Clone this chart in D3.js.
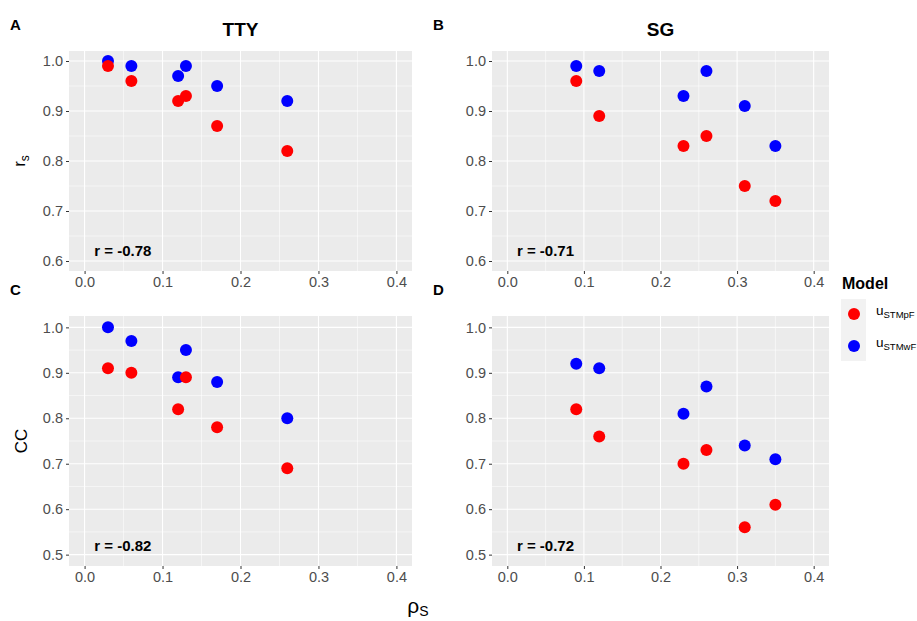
<!DOCTYPE html>
<html>
<head>
<meta charset="utf-8">
<script src="https://cdn.jsdelivr.net/npm/d3@7"></script>
<style>
  body { margin: 0; background: white; }
  text { font-family: "Liberation Sans", Arial, sans-serif; }
</style>
</head>
<body>
<div id="chart"></div>
<script>
// data
var rhoTTY = [0.03, 0.06, 0.12, 0.13, 0.17, 0.26];
var rhoSG = [0.09, 0.12, 0.23, 0.26, 0.31, 0.35];

var rsTTY_pF = [0.99, 0.96, 0.92, 0.93, 0.87, 0.82];
var rsTTY_wF = [1.00, 0.99, 0.97, 0.99, 0.95, 0.92];
var rsSG_pF = [0.96, 0.89, 0.83, 0.85, 0.75, 0.72];
var rsSG_wF = [0.99, 0.98, 0.93, 0.98, 0.91, 0.83];
var ccTTY_pF = [0.91, 0.90, 0.82, 0.89, 0.78, 0.69];
var ccTTY_wF = [1.00, 0.97, 0.89, 0.95, 0.88, 0.80];
var ccSG_pF = [0.82, 0.76, 0.70, 0.73, 0.56, 0.61];
var ccSG_wF = [0.92, 0.91, 0.81, 0.87, 0.74, 0.71];

var xTicks = [0, 0.1, 0.2, 0.3, 0.4];
var yTicksRs = [0.6, 0.7, 0.8, 0.9, 1.0];
var yTicksCC = [0.5, 0.6, 0.7, 0.8, 0.9, 1.0];
var rLabels = ["r = -0.78", "r = -0.71", "r = -0.82", "r = -0.72"];
var panelTags = ["A", "B", "C", "D"];
var models = ["STMpF", "STMwF"];
var colors = {STMpF: "red", STMwF: "blue"};

var width = 917;
var height = 621;

var svg = d3.select("#chart").append("svg")
  .attr("width", width)
  .attr("height", height);

var panels = [
  {tag: "A", x: rhoTTY, pF: rsTTY_pF, wF: rsTTY_wF, yTicks: yTicksRs, yDom: [0.58, 1.02], left: 69, right: 412, top: 51, bottom: 271, r: rLabels[0], title: "TTY"},
  {tag: "B", x: rhoSG, pF: rsSG_pF, wF: rsSG_wF, yTicks: yTicksRs, yDom: [0.58, 1.02], left: 492, right: 829, top: 51, bottom: 271, r: rLabels[1], title: "SG"},
  {tag: "C", x: rhoTTY, pF: ccTTY_pF, wF: ccTTY_wF, yTicks: yTicksCC, yDom: [0.475, 1.025], left: 69, right: 412, top: 316, bottom: 566, r: rLabels[2]},
  {tag: "D", x: rhoSG, pF: ccSG_pF, wF: ccSG_wF, yTicks: yTicksCC, yDom: [0.475, 1.025], left: 492, right: 829, top: 316, bottom: 566, r: rLabels[3]}
];

panels.forEach(function(p) {
  var x = d3.scaleLinear().domain([-0.02, 0.42]).range([p.left, p.right]);
  var y = d3.scaleLinear().domain(p.yDom).range([p.bottom, p.top]);
  var g = svg.append("g");

  g.append("rect")
    .attr("x", p.left).attr("y", p.top)
    .attr("width", p.right - p.left).attr("height", p.bottom - p.top)
    .attr("fill", "#EBEBEB");

  // minor grid
  var xMinor = [0.05, 0.15, 0.25, 0.35];
  var yMinor = p.yTicks.slice(0, -1).map(function(d) { return d + 0.05; });
  g.selectAll(".vminor").data(xMinor).enter().append("line")
    .attr("x1", x).attr("x2", x).attr("y1", p.top).attr("y2", p.bottom)
    .attr("stroke", "white").attr("stroke-width", 0.55);
  g.selectAll(".hminor").data(yMinor).enter().append("line")
    .attr("y1", y).attr("y2", y).attr("x1", p.left).attr("x2", p.right)
    .attr("stroke", "white").attr("stroke-width", 0.55);
  // major grid
  g.selectAll(".vmajor").data(xTicks).enter().append("line")
    .attr("x1", x).attr("x2", x).attr("y1", p.top).attr("y2", p.bottom)
    .attr("stroke", "white").attr("stroke-width", 1.1);
  g.selectAll(".hmajor").data(p.yTicks).enter().append("line")
    .attr("y1", y).attr("y2", y).attr("x1", p.left).attr("x2", p.right)
    .attr("stroke", "white").attr("stroke-width", 1.1);

  var xAxis = d3.axisBottom(x).tickValues(xTicks).tickFormat(d3.format(".1f")).tickSize(3).tickPadding(3);
  var yAxis = d3.axisLeft(y).tickValues(p.yTicks).tickFormat(d3.format(".1f")).tickSize(3).tickPadding(3);

  var gx = g.append("g").attr("transform", "translate(0," + p.bottom + ")").call(xAxis);
  var gy = g.append("g").attr("transform", "translate(" + p.left + ",0)").call(yAxis);
  [gx, gy].forEach(function(a) {
    a.select(".domain").remove();
    a.selectAll(".tick line").attr("stroke", "#333333");
    a.selectAll(".tick text").attr("fill", "#4D4D4D").style("font-size", "14.5px")
      .style("font-family", "'Liberation Sans', Arial, sans-serif");
  });

  // points: wF first, pF on top
  g.selectAll(".wF").data(p.x).enter().append("circle")
    .attr("cx", function(d) { return x(d); })
    .attr("cy", function(d, i) { return y(p.wF[i]); })
    .attr("r", 6).attr("fill", colors.STMwF);
  g.selectAll(".pF").data(p.x).enter().append("circle")
    .attr("cx", function(d) { return x(d); })
    .attr("cy", function(d, i) { return y(p.pF[i]); })
    .attr("r", 6).attr("fill", colors.STMpF);

  g.append("text")
    .attr("x", x(0.0125)).attr("y", p.bottom - 15)
    .attr("font-size", 15).attr("font-weight", "bold")
    .text(p.r);

  g.append("text")
    .attr("x", p.left - 59).attr("y", p.top - 21)
    .attr("font-size", 15).attr("font-weight", "bold")
    .text(p.tag);

  if (p.title) {
    g.append("text")
      .attr("x", (p.left + p.right) / 2).attr("y", 36)
      .attr("text-anchor", "middle")
      .attr("font-size", 19).attr("font-weight", "bold")
      .text(p.title);
  }
});

// y-axis titles
var yt1 = svg.append("text")
  .attr("transform", "translate(25,161) rotate(-90)")
  .attr("text-anchor", "middle").attr("font-size", 17);
yt1.append("tspan").text("r");
yt1.append("tspan").attr("font-size", 12).attr("dy", 4).text("s");

svg.append("text")
  .attr("transform", "translate(27,441) rotate(-90)")
  .attr("text-anchor", "middle").attr("font-size", 17)
  .text("CC");

// x-axis title
var xt = svg.append("text")
  .attr("x", 418).attr("y", 613)
  .attr("text-anchor", "middle").attr("font-size", 21);
xt.append("tspan").text("ρ");
xt.append("tspan").attr("font-size", 14).attr("dy", 3).text("S");

// legend
svg.append("text")
  .attr("x", 842).attr("y", 289)
  .attr("font-size", 16).attr("font-weight", "bold")
  .text("Model");

svg.append("rect")
  .attr("x", 841).attr("y", 299).attr("width", 25).attr("height", 62)
  .attr("fill", "#F2F2F2");

models.forEach(function(m, i) {
  var cy = 314 + i * 32;
  svg.append("circle").attr("cx", 854).attr("cy", cy).attr("r", 6).attr("fill", colors[m]);
  var t = svg.append("text").attr("x", 876).attr("y", cy + 1).attr("font-size", 13.5);
  t.append("tspan").text("u");
  t.append("tspan").attr("font-size", 9.5).attr("dy", 3).text(m);
});
</script>
</body>
</html>
